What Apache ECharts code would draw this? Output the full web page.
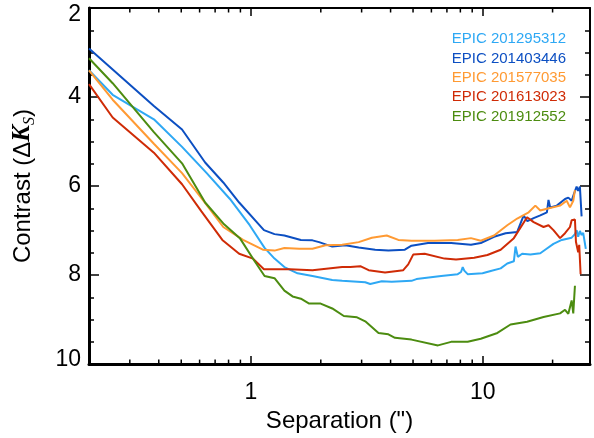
<!DOCTYPE html>
<html><head><meta charset="utf-8">
<script src="https://cdn.jsdelivr.net/npm/echarts@6/dist/echarts.min.js"></script>
<style>html,body{margin:0;padding:0;background:#fff}#c{width:594px;height:438px}</style>
</head><body><div id="c"></div>
<script>
// ---- data ----
const seriesNames = ['EPIC 201295312','EPIC 201403446','EPIC 201577035','EPIC 201613023','EPIC 201912552'];

const sepA = [0.2,0.253,0.381,0.504,0.644,0.811,0.987,1.144,1.263,1.393,1.588,1.841,2.241,2.473,3.11,3.267,3.665,4.045,4.924,5.172,6.614,7.795,8.054,8.19,8.318,8.603,9.97,10.82,11.94,12.75,13.61,13.84,14.16,14.78,16.04,17.70,18.58,20.17,21.91,24.17,24.97,25.39,25.79,26.23,26.68,27.10,27.55,27.82];
const conA = [3.40,3.95,4.50,5.12,5.71,6.29,6.88,7.39,7.63,7.82,7.96,8.02,8.11,8.13,8.16,8.20,8.14,8.15,8.13,8.09,8.02,7.98,7.93,7.82,7.90,7.98,7.96,7.91,7.85,7.74,7.69,7.36,7.59,7.52,7.54,7.51,7.43,7.30,7.21,7.16,7.08,6.99,7.14,7.01,7.10,7.05,7.01,7.41];

const sepB = [0.2,0.381,0.504,0.634,0.759,0.889,1.137,1.263,1.393,1.641,1.841,1.966,2.241,2.555,2.914,3.432,3.914,4.610,4.924,5.803,7.297,8.887,9.80,11.18,12.54,14.07,15.01,15.57,16.57,17.70,18.90,19.20,19.53,20.85,22.63,23.38,24.17,24.56,25.39,25.79,26.23,26.68];
const conB = [2.91,4.20,4.73,5.47,5.92,6.37,6.99,7.08,7.11,7.21,7.22,7.26,7.36,7.33,7.38,7.43,7.45,7.43,7.34,7.28,7.28,7.32,7.28,7.14,7.06,7.03,6.66,6.79,6.72,6.66,6.59,6.31,6.48,6.44,6.29,6.26,6.33,6.22,6.01,6.11,6.01,6.68];

const sepC = [0.2,0.253,0.381,0.504,0.623,0.759,0.924,1.125,1.263,1.393,1.615,1.841,2.098,2.473,2.914,3.322,3.85,4.32,4.924,6.194,7.795,8.887,9.80,11.18,12.75,14.07,15.77,16.85,17.70,18.90,21.54,23.01,23.77,24.56,24.97];
const conC = [3.40,4.06,5.05,5.71,6.33,6.92,7.21,7.43,7.45,7.39,7.41,7.41,7.33,7.32,7.26,7.16,7.11,7.21,7.23,7.23,7.21,7.17,7.23,7.11,6.88,6.73,6.59,6.44,6.55,6.51,6.44,6.33,6.48,6.33,6.09];

const sepD = [0.2,0.253,0.381,0.504,0.611,0.752,0.889,1.02,1.137,1.279,1.468,1.841,2.473,2.683,2.961,3.217,3.787,4.537,4.766,5.007,5.613,6.833,7.666,9.18,10.47,11.94,13.61,15.52,16.57,18.28,19.20,20.17,21.54,22.63,23.77,24.17,24.97,25.22,25.79,26.05,26.42];
const conD = [3.71,4.46,5.25,5.96,6.57,7.21,7.52,7.63,7.87,7.87,7.87,7.89,7.82,7.82,7.80,7.89,7.94,7.89,7.76,7.54,7.52,7.63,7.65,7.61,7.55,7.43,7.17,6.70,6.81,6.92,6.88,6.99,7.17,7.06,6.92,6.77,6.75,7.25,7.49,7.32,7.98];

const sepE = [0.2,0.253,0.381,0.504,0.634,0.759,0.895,1.037,1.144,1.263,1.393,1.511,1.641,1.782,1.997,2.241,2.514,2.866,3.11,3.548,3.914,4.178,4.924,6.405,7.297,8.603,9.80,11.56,13.17,15.52,18.28,21.54,22.63,23.38,24.17,24.56,24.97];
const conE = [3.13,3.69,4.79,5.49,6.37,6.84,7.17,7.69,8.02,8.07,8.35,8.48,8.53,8.64,8.64,8.75,8.92,8.95,9.04,9.30,9.33,9.41,9.45,9.58,9.50,9.50,9.43,9.30,9.11,9.05,8.94,8.86,8.78,8.87,8.57,8.86,8.24];

const xMinorTicks = [0.3,0.4,0.5,0.6,0.7,0.8,0.9,2,3,4,5,6,7,8,9,20];
const yTickLabels = [2,4,6,8,10];

// ---- chart ----
const colors = ['#2ea8f4','#0c4fc2','#ff9a33','#cf2b06','#4c8c10'];
const FONT = '"Liberation Sans", Arial, Helvetica, sans-serif';
const SERIF = '"Liberation Serif", "DejaVu Serif", serif';
const zip = (xs, ys) => xs.map((x, i) => [x, ys[i]]);
const seriesData = [zip(sepA, conA), zip(sepB, conB), zip(sepC, conC), zip(sepD, conD), zip(sepE, conE)];

const chart = echarts.init(document.getElementById('c'), null, {renderer: 'canvas'});

const isDecade = v => v >= 1 && Math.abs(Math.log10(v) - Math.round(Math.log10(v))) < 1e-6;

const option = {
  animation: false,
  backgroundColor: '#fff',
  grid: {left: 85, right: 4, top: 8, bottom: 66, containLabel: false},
  xAxis: [{
    type: 'log', logBase: 10, min: 0.2, max: 29, position: 'bottom',
    name: 'Separation (")', nameLocation: 'middle', nameGap: 43,
    nameTextStyle: {fontSize: 24, fontFamily: FONT, color: '#000'},
    axisLine: {show: true, onZero: false, lineStyle: {color: '#000', width: 3}},
    axisTick: {show: true, inside: true, length: 8, lineStyle: {color: '#000', width: 1.5}},
    axisLabel: {show: true, margin: 17, fontSize: 23, fontFamily: FONT, color: '#000',
      formatter: v => isDecade(v) ? String(Math.round(v)) : ''},
    splitLine: {show: false}, minorTick: {show: false}
  }, {
    type: 'log', logBase: 10, min: 0.2, max: 29, position: 'top',
    axisLine: {show: true, onZero: false, lineStyle: {color: '#000', width: 2}},
    axisTick: {show: true, inside: true, length: 8, lineStyle: {color: '#000', width: 1.5}},
    axisLabel: {show: false}, splitLine: {show: false}
  }],
  yAxis: [{
    type: 'value', min: 2, max: 10, interval: 2, inverse: true, position: 'left',
    name: 'Contrast (Δ{k|K}{s|S})', nameLocation: 'middle', nameGap: 51, nameRotate: 90,
    nameTextStyle: {fontSize: 24, fontFamily: FONT, color: '#000', lineHeight: 30,
      rich: {
        k: {fontSize: 25, fontFamily: SERIF, fontWeight: 'bold', fontStyle: 'italic', color: '#000', lineHeight: 30},
        s: {fontSize: 16, fontFamily: SERIF, fontStyle: 'italic', color: '#000', lineHeight: 30, verticalAlign: 'bottom'}
      }},
    axisLine: {show: true, onZero: false, lineStyle: {color: '#000', width: 3}},
    axisTick: {show: true, inside: true, length: 10, lineStyle: {color: '#000', width: 1.5}},
    minorTick: {show: true, splitNumber: 4, length: 5, lineStyle: {color: '#000', width: 1.5}},
    axisLabel: {show: true, margin: 8, fontSize: 23, fontFamily: FONT, color: '#000',
      formatter: v => v === 2 ? '{t|2}' : (v === 10 ? '{b|10}' : String(v)),
      rich: {
        t: {fontSize: 23, fontFamily: FONT, color: '#000', padding: [14, 0, 0, 0]},
        b: {fontSize: 23, fontFamily: FONT, color: '#000', padding: [0, 0, 8, 0]}
      }},
    splitLine: {show: false}
  }, {
    type: 'value', min: 2, max: 10, interval: 2, inverse: true, position: 'right',
    axisLine: {show: true, onZero: false, lineStyle: {color: '#000', width: 2}},
    axisTick: {show: true, inside: true, length: 10, lineStyle: {color: '#000', width: 1.5}},
    minorTick: {show: true, splitNumber: 4, length: 5, lineStyle: {color: '#000', width: 1.5}},
    axisLabel: {show: false}, splitLine: {show: false}
  }],
  legend: {
    orient: 'vertical', right: 23, top: 29.5, align: 'right', padding: 0,
    itemWidth: 0, itemHeight: 0, itemGap: 0.4, selectedMode: false,
    textStyle: {fontSize: 15, fontFamily: FONT, lineHeight: 19},
    data: seriesNames.map((n, i) => ({name: n, icon: 'none', textStyle: {color: colors[i]}}))
  },
  series: seriesData.map((d, i) => ({
    name: seriesNames[i], type: 'line', xAxisIndex: 0, yAxisIndex: 0,
    data: d, showSymbol: false, symbol: 'none', smooth: false,
    lineStyle: {color: colors[i], width: 2}, itemStyle: {color: colors[i]},
    z: 3
  })).concat([{
    type: 'custom', name: 'minorTicks', xAxisIndex: 0, yAxisIndex: 0, silent: true, clip: false, z: 5,
    data: xMinorTicks.map(v => [v, 6]),
    encode: {x: 0, y: 1},
    renderItem: (params, api) => {
      const cs = params.coordSys;
      const x = api.coord([api.value(0), 6])[0];
      const yb = cs.y + cs.height, yt = cs.y;
      return {type: 'group', children: [
        {type: 'line', shape: {x1: x, y1: yb, x2: x, y2: yb - 4.5}, style: {stroke: '#000', lineWidth: 1.5}},
        {type: 'line', shape: {x1: x, y1: yt, x2: x, y2: yt + 4.5}, style: {stroke: '#000', lineWidth: 1.5}}
      ]};
    }
  }])
};
chart.setOption(option);
</script>
</body></html>
